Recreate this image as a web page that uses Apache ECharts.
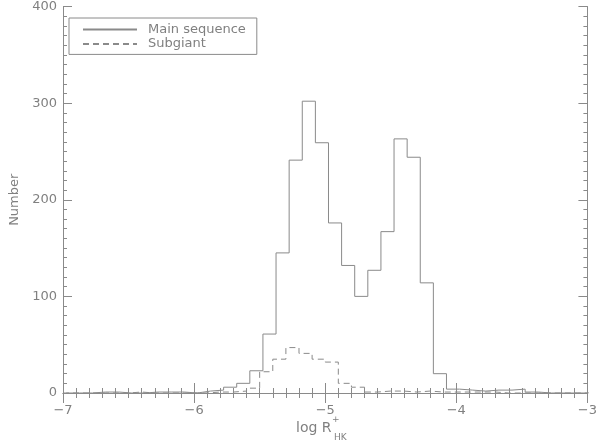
<!DOCTYPE html>
<html><head><meta charset="utf-8">
<script src="https://cdn.jsdelivr.net/npm/echarts@6/dist/echarts.min.js"></script>
<style>html,body{margin:0;padding:0;background:#fff}#c{width:600px;height:444px}</style>
</head><body><div id="c"></div>
<script>
// Main sequence histogram: bin left edges (plus final right edge) and counts
var mainEdges = [-6.975,-6.875,-6.775,-6.675,-6.575,-6.475,-6.375,-6.275,-6.175,-6.075,
  -5.975,-5.875,-5.775,-5.675,-5.575,-5.475,-5.375,-5.275,-5.175,-5.075,
  -4.975,-4.875,-4.775,-4.675,-4.575,-4.475,-4.375,-4.275,-4.175,-4.075,
  -3.975,-3.875,-3.775,-3.675,-3.575,-3.475,-3.375,-3.275,-3.175,-3.075,-2.975];
var mainCounts = [0,0,1,1,0,0,1,1,1,0,
  2,3,6,10,23,61,145,241,302,259,
  176,132,100,127,167,263,244,114,20,4,
  3,2,3,3,4,1,0,0,0,0];
// Subgiant histogram
var subEdges = [-7.0,-6.9,-6.8,-6.7,-6.6,-6.5,-6.4,-6.3,-6.2,-6.1,
  -6.0,-5.9,-5.8,-5.7,-5.6,-5.5,-5.4,-5.3,-5.2,-5.1,
  -5.0,-4.9,-4.8,-4.7,-4.6,-4.5,-4.4,-4.3,-4.2,-4.1,
  -4.0,-3.9,-3.8,-3.7,-3.6,-3.5,-3.4,-3.3,-3.2,-3.1,-3.0];
var subCounts = [0,0,0,0,0,1,0,0,0,0,
  0,1,1,2,5,22,35,47,41,35,
  32,10,6,1,2,2,1,2,1,1,
  1,1,1,0,0,0,0,0,0,0];
var seriesNames = ['Main sequence','Subgiant'];
var xTicks = [-7,-6,-5,-4,-3];
var yTicks = [0,100,200,300,400];

function stepData(edges, counts){
  return edges.map(function(e,i){ return [e, counts[Math.min(i, counts.length-1)]]; });
}
var LC = '#8a8a8a', TC = '#808080';
var font = 'DejaVu Sans';
function axisCommon(extra){
  var o = {
    axisLine:{show:true,lineStyle:{color:LC,width:1}},
    splitLine:{show:false},
    minorSplitLine:{show:false}
  };
  for (var k in extra) o[k]=extra[k];
  return o;
}
var xBase = {type:'value', min:xTicks[0], max:xTicks[xTicks.length-1], interval:1};
var yBase = {type:'value', min:yTicks[0], max:yTicks[yTicks.length-1], interval:100};

var chart = echarts.init(document.getElementById('c'), null, {renderer:'canvas'});
chart.setOption({
  animation:false,
  backgroundColor:'#fff',
  grid:{left:61,right:11,top:6,bottom:51,containLabel:false},
  xAxis:[
    axisCommon(Object.assign({}, xBase, {position:'bottom',
      axisTick:{show:true,inside:true,length:10,lineStyle:{color:LC}},
      minorTick:{show:true,splitNumber:10,length:5,lineStyle:{color:LC}},
      axisLabel:{show:true,margin:11,color:TC,fontSize:13,fontFamily:font,
        formatter:function(v){return v<0?'\u2212'+Math.abs(v):String(v);}}
    })),
    axisCommon(Object.assign({}, xBase, {position:'top',
      axisTick:{show:true,inside:true,length:10,lineStyle:{color:LC}},
      minorTick:{show:true,splitNumber:10,length:5,lineStyle:{color:LC}},
      axisLabel:{show:false}
    }))
  ],
  yAxis:[
    axisCommon(Object.assign({}, yBase, {position:'left',
      name:'Number',nameLocation:'middle',nameGap:42,
      nameTextStyle:{color:TC,fontSize:13,fontFamily:font},
      axisTick:{show:true,inside:true,length:9,lineStyle:{color:LC}},
      minorTick:{show:true,splitNumber:10,length:4,lineStyle:{color:LC}},
      axisLabel:{show:true,margin:6,color:TC,fontSize:13,fontFamily:font}
    })),
    axisCommon(Object.assign({}, yBase, {position:'right',
      axisTick:{show:true,inside:true,length:9,lineStyle:{color:LC}},
      minorTick:{show:true,splitNumber:10,length:4,lineStyle:{color:LC}},
      axisLabel:{show:false}
    }))
  ],
  legend:{
    left:69, top:18, orient:'vertical',
    padding:[5,11,4,13],
    borderColor:LC, borderWidth:1,
    itemWidth:54, itemHeight:12, itemGap:1.4,
    itemStyle:{opacity:0},
    textStyle:{fontSize:13,color:TC,fontFamily:font,padding:[0,0,0,6]},
    data:seriesNames
  },
  graphic:[
    {type:'text', left:296, top:421, style:{text:'log R', font:'14px "DejaVu Sans"', fill:TC}},
    {type:'text', left:332, top:415, style:{text:'+', font:'9px "DejaVu Sans"', fill:TC}},
    {type:'text', left:334, top:433, style:{text:'HK', font:'9px "DejaVu Sans"', fill:TC}}
  ],
  series:[
    {name:seriesNames[0], type:'line', step:'end', symbol:'none', showSymbol:false,
     xAxisIndex:0, yAxisIndex:0,
     lineStyle:{color:LC,width:1,type:'solid'}, itemStyle:{color:LC},
     data:stepData(mainEdges, mainCounts)},
    {name:seriesNames[1], type:'line', step:'end', symbol:'none', showSymbol:false,
     xAxisIndex:0, yAxisIndex:0,
     lineStyle:{color:LC,width:1,type:[6,4]}, itemStyle:{color:LC},
     data:stepData(subEdges, subCounts)}
  ]
});
</script></body></html>
